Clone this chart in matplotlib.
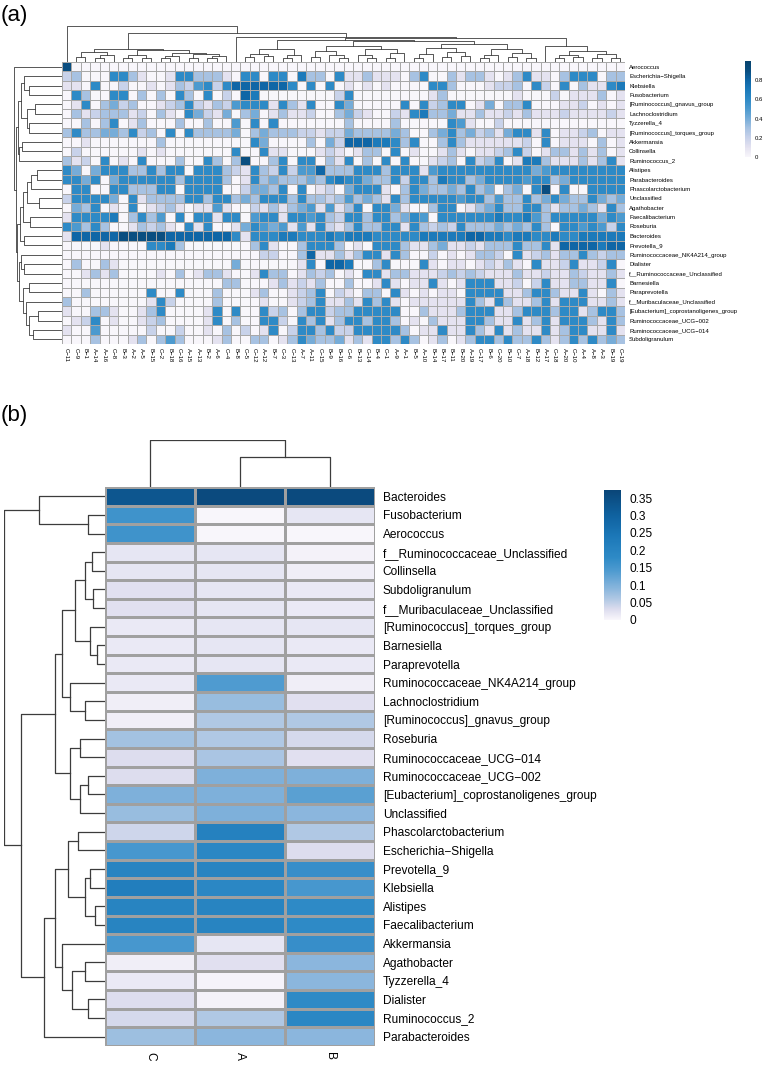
import numpy as np
import matplotlib
matplotlib.use('Agg')
import matplotlib.pyplot as plt
from matplotlib.colors import LinearSegmentedColormap, Normalize
from matplotlib.cm import ScalarMappable

plt.rcParams['font.family'] = ['Liberation Sans', 'DejaVu Sans']

# ---------------- data, panel (a) ----------------
GENERA_A = ['Aerococcus', 'Escherichia\u2212Shigella', 'Klebsiella', 'Fusobacterium',
            '[Ruminococcus]_gnavus_group', 'Lachnoclostridium', 'Tyzzerella_4',
            '[Ruminococcus]_torques_group', 'Akkermansia', 'Collinsella', 'Ruminococcus_2',
            'Alistipes', 'Parabacteroides', 'Phascolarctobacterium', 'Unclassified',
            'Agathobacter', 'Faecalibacterium', 'Roseburia', 'Bacteroides', 'Prevotella_9',
            'Ruminococcaceae_NK4A214_group', 'Dialister', 'f__Ruminococcaceae_Unclassified',
            'Barnesiella', 'Paraprevotella', 'f__Muribaculaceae_Unclassified',
            '[Eubacterium]_coprostanoligenes_group', 'Ruminococcaceae_UCG\u2212002',
            'Ruminococcaceae_UCG\u2212014', 'Subdoligranulum']

SAMPLES_A = ['C\u221211', 'C\u22129', 'B\u22121', 'A\u221214', 'A\u221216', 'C\u22128',
             'B\u22123', 'A\u22122', 'A\u22125', 'B\u221215', 'C\u22122', 'B\u221218',
             'C\u221216', 'A\u221215', 'A\u221213', 'B\u22122', 'A\u22126', 'C\u22124',
             'B\u22128', 'C\u22125', 'C\u221212', 'A\u221212', 'B\u22127', 'C\u22123',
             'C\u221213', 'A\u22127', 'A\u221211', 'C\u221215', 'B\u22129', 'B\u221216',
             'C\u22126', 'B\u221213', 'C\u221214', 'B\u22124', 'C\u22121', 'A\u22129',
             'A\u22121', 'B\u22125', 'A\u221210', 'B\u221214', 'B\u221217', 'B\u221211',
             'B\u221220', 'A\u221219', 'C\u221217', 'B\u22126', 'C\u221220', 'B\u221210',
             'C\u22127', 'A\u221218', 'B\u221212', 'A\u221217', 'C\u221218', 'A\u221220',
             'C\u221210', 'A\u22124', 'A\u22128', 'A\u22123', 'B\u221219', 'C\u221219']

# relative abundance levels (one digit per sample, 0..9 -> 0..0.9)
LEVELS_A = [
    '900000000000000000000000000000' '000000000000000000000000000000',
    '230006631001663331066066073306' '113111036003133101361103666033',
    '110600200101325626888888606060' '101010000663000122306206031167',
    '063006603030630602087000000002' '600000000130000000100020111301',
    '016034230012362132566616316006' '400000606236601403360001120101',
    '031233312031064214034013112003' '421002167334113112131112111121',
    '003036013000300300506060000000' '300003000006510020000000000000',
    '363344362306063333403433322122' '433334300346342314661601123011',
    '001000000030000000006400003042' '888776360036311111120601110301',
    '020000001010000000600611000121' '013306010013101123620133131301',
    '312060106000300630390036066031' '603060600123062360177311131361',
    '640466633636606663216326255833' '366636661566666666664566666666',
    '664604666666366663016343334367' '664336266376634666656634666666',
    '066006633366066660024436060120' '466610364334363403406906006666',
    '266664061333366366343666363323' '534316366666566353363464336434',
    '043601060123101151002131345151' '360664100366013463366313343163',
    '166667036350606616605661665632' '663663465066666676675366666465',
    '653630013231061600146545151621' '363366163232633343436306656526',
    '188888999998888888616667766676' '777666667777788776776676677777',
    '000010000667300000003610036663' '010666311341121333633618888788',
    '000000000000000000000220038113' '136616300201013320612313363233',
    '030031000000000000400000016088' '700360006101101213106112611260',
    '001313000010301331001633013230' '106613311123232111311211321131',
    '000000000000000003300013121300' '300161011610166611202611331160',
    '003000000600600030001300123602' '103306101011066661136631161031',
    '300000000162000030000100123611' '316361011111163163113616661131',
    '100331001360000160600623036623' '366666003111366611366636613663',
    '012601001230000160300662063613' '663663010311166311613616663163',
    '100500000200200103020160266362' '266666301161163161311613661161',
    '000300013035300013003301364334' '131663630130136636336313636343',
]

# ---------------- data, panel (b) ----------------
GENERA_B = ['Bacteroides', 'Fusobacterium', 'Aerococcus', 'f__Ruminococcaceae_Unclassified',
            'Collinsella', 'Subdoligranulum', 'f__Muribaculaceae_Unclassified',
            '[Ruminococcus]_torques_group', 'Barnesiella', 'Paraprevotella',
            'Ruminococcaceae_NK4A214_group', 'Lachnoclostridium', '[Ruminococcus]_gnavus_group',
            'Roseburia', 'Ruminococcaceae_UCG\u2212014', 'Ruminococcaceae_UCG\u2212002',
            '[Eubacterium]_coprostanoligenes_group', 'Unclassified', 'Phascolarctobacterium',
            'Escherichia\u2212Shigella', 'Prevotella_9', 'Klebsiella', 'Alistipes',
            'Faecalibacterium', 'Akkermansia', 'Agathobacter', 'Tyzzerella_4', 'Dialister',
            'Ruminococcus_2', 'Parabacteroides']
GROUPS_B = ['C', 'A', 'B']
GROUP_C = [0.33, 0.16, 0.16, 0.02, 0.02, 0.025, 0.025, 0.015, 0.015, 0.015,
           0.015, 0.01, 0.01, 0.07, 0.03, 0.03, 0.1, 0.08, 0.04, 0.15,
           0.2, 0.22, 0.2, 0.2, 0.15, 0.01, 0.015, 0.03, 0.035, 0.075]
GROUP_A = [0.36, 0.0, 0.0, 0.02, 0.02, 0.02, 0.02, 0.02, 0.02, 0.02,
           0.14, 0.08, 0.06, 0.06, 0.065, 0.1, 0.1, 0.1, 0.21, 0.19,
           0.2, 0.19, 0.2, 0.2, 0.02, 0.025, 0.003, 0.005, 0.06, 0.09]
GROUP_B = [0.36, 0.02, 0.0, 0.005, 0.01, 0.015, 0.015, 0.02, 0.015, 0.015,
           0.01, 0.025, 0.06, 0.035, 0.025, 0.1, 0.13, 0.09, 0.06, 0.03,
           0.17, 0.15, 0.18, 0.18, 0.17, 0.09, 0.09, 0.18, 0.19, 0.09]

# dendrograms: (merge height, left, right); leaves are row / column indices
COL_TREE_A = (1.0, 0, (0.8,
    (0.35, (0.29, (0.15, 1, 2), (0.2, (0.12, 3, 4), 5)),
           (0.32, (0.2, (0.12, 6, 7), (0.1, 8, 9)),
                  (0.26, (0.18, (0.1, 10, 11), 12),
                         (0.22, (0.1, 13, 14), (0.16, (0.1, 15, 16), 17))))),
    (0.7, 18, (0.66,
        (0.62, (0.35, (0.22, (0.15, 19, 20), (0.18, 21, 22)), (0.2, (0.12, 23, 24), 25)),
               (0.57, (0.45, (0.3, (0.15, 26, 27), (0.2, 28, (0.1, 29, 30))),
                             (0.35, (0.2, 31, (0.12, 32, 33)), (0.25, (0.1, 34, 35), 36))),
                      (0.5, (0.38, (0.22, (0.12, 37, 38), 39),
                                   (0.28, (0.15, 40, 41), (0.18, 42, 43))),
                            (0.36, (0.2, (0.12, 44, 45), 46),
                                   (0.24, (0.14, 47, 48), (0.12, 49, 50)))))),
        (0.44, 51, (0.3, (0.2, (0.12, 52, 53), (0.15, 54, 55)),
                         (0.22, (0.12, 56, 57), (0.1, 58, 59))))))))

ROW_TREE_A = (0.98, 0, (0.94,
    (0.9, (0.83, (0.77, 1, (0.67, 2, 3)), (0.71, (0.56, 4, 5), (0.67, 6, 7))),
          (0.875, (0.81, 8, 9), 10)),
    (0.91, (0.85, (0.79, (0.71, (0.625, (0.52, 11, 12), 13), (0.46, 14, 15)), (0.65, 16, 17)),
                  (0.77, 18, 19)),
           (0.875, (0.83, 20, (0.77, 21, 22)),
                   (0.79, (0.67, 23, 24),
                          (0.73, 25, (0.67, (0.5, 26, 27), (0.6, 28, 29))))))))

COL_TREE_B = (1.0, 0, (0.64, 1, 2))
ROW_TREE_B = (1.0,
    (0.65, 0, (0.17, 1, 2)),
    (0.83,
        (0.5, (0.43, (0.3, (0.2, (0.13, 3, 4), (0.12, 5, 6)), (0.15, 7, (0.08, 8, 9))),
                     (0.35, 10, (0.2, 11, 12))),
              (0.35, (0.25, 13, 14), (0.25, (0.17, 15, 16), 17))),
        (0.6, (0.5, (0.37, (0.27, 18, 19), (0.2, (0.15, 20, 21), (0.1, 22, 23))),
                    (0.43, 24, (0.33, (0.2, 25, 26), (0.17, 27, 28)))),
              29)))

# ---------------- drawing ----------------
W, H = 767, 1065
fig = plt.figure(figsize=(W / 100, H / 100), dpi=100)


def box(x0, y0, x1, y1):
    return fig.add_axes([x0 / W, 1 - y1 / H, (x1 - x0) / W, (y1 - y0) / H])


def draw_tree(ax, node, side, **kw):
    if isinstance(node, int):
        return node + 0.5, 0.0
    h, left, right = node
    p1, h1 = draw_tree(ax, left, side, **kw)
    p2, h2 = draw_tree(ax, right, side, **kw)
    if side == 'top':
        ax.plot([p1, p1, p2, p2], [h1, h, h, h2], **kw)
    else:
        ax.plot([h1, h, h, h2], [p1, p1, p2, p2], **kw)
    return (p1 + p2) / 2, h


cmap_a = LinearSegmentedColormap.from_list('a', [
    '#f8f6fb', '#e4e2f0', '#c8d2ea', '#a6c2e2', '#76acd8', '#4d9acf',
    '#2e8ac6', '#1c7aba', '#0f66a6', '#0a4e80', '#08446e'])
vmax_b = 0.373
cmap_b = LinearSegmentedColormap.from_list('b', [
    (0, '#f8f6fb'), (0.03 / vmax_b, '#dcdcee'), (0.06 / vmax_b, '#b0c8e4'),
    (0.1 / vmax_b, '#7db0da'), (0.14 / vmax_b, '#4f9bd0'), (0.18 / vmax_b, '#2e8ac6'),
    (0.24 / vmax_b, '#1c78b8'), (0.3 / vmax_b, '#0f62a0'), (1.0, '#0a4678')])

line_col = '#3c3c3c'

# ---- panel (a) ----
vals_a = np.array([[int(c) for c in row] for row in LEVELS_A]) / 10.0
nr, nc = vals_a.shape
norm_a = Normalize(0, 1.0)

ax = box(62, 62, 625, 344)
ax.pcolormesh(vals_a, cmap=cmap_a, norm=norm_a, edgecolors='#a8a8a8', linewidth=0.4)
ax.set_xlim(0, nc)
ax.set_ylim(nr, 0)
for s in ax.spines.values():
    s.set_visible(False)
ax.yaxis.tick_right()
ax.set_yticks(np.arange(nr) + 0.5)
ax.set_yticklabels(GENERA_A, fontsize=4.3)
ax.set_xticks(np.arange(nc) + 0.5)
ax.set_xticklabels(SAMPLES_A, fontsize=4.3, rotation=270)
ax.tick_params(length=0, pad=3)

ax = box(62, 26, 625, 62)
draw_tree(ax, COL_TREE_A, 'top', color=line_col, lw=0.6)
ax.set_xlim(0, nc)
ax.set_ylim(0, 1.0)
ax.axis('off')

ax = box(13, 62, 62, 344)
draw_tree(ax, ROW_TREE_A, 'left', color=line_col, lw=0.6)
ax.set_xlim(1.0, 0)
ax.set_ylim(nr, 0)
ax.axis('off')

cax = box(745, 61, 751, 157)
cb = fig.colorbar(ScalarMappable(norm=norm_a, cmap=cmap_a), cax=cax)
cb.outline.set_visible(False)
cb.set_ticks([0, 0.2, 0.4, 0.6, 0.8])
cb.set_ticklabels(['0', '0.2', '0.4', '0.6', '0.8'])
cax.tick_params(length=0, labelsize=4.3, pad=3)

fig.text(1 / W, 1 - 16 / H, '(a)', fontsize=16, va='center', ha='left')

# ---- panel (b) ----
vals_b = np.column_stack([GROUP_C, GROUP_A, GROUP_B])
nrb, ncb = vals_b.shape
norm_b = Normalize(0, vmax_b)

ax = box(105, 487, 375, 1046)
ax.pcolormesh(vals_b, cmap=cmap_b, norm=norm_b, edgecolors='#a0a0a0', linewidth=0.8)
ax.set_xlim(0, ncb)
ax.set_ylim(nrb, 0)
for s in ax.spines.values():
    s.set_visible(False)
ax.yaxis.tick_right()
ax.set_yticks(np.arange(nrb) + 0.5)
ax.set_yticklabels(GENERA_B, fontsize=8.6)
ax.set_xticks(np.arange(ncb) + 0.5)
ax.set_xticklabels(GROUPS_B, fontsize=8.6, rotation=270)
ax.tick_params(axis='y', length=0, pad=5.5)
ax.tick_params(axis='x', length=0, pad=4)

ax = box(105, 440, 375, 487)
draw_tree(ax, COL_TREE_B, 'top', color=line_col, lw=0.9)
ax.set_xlim(0, ncb)
ax.set_ylim(0, 1.0)
ax.axis('off')

ax = box(4, 487, 105, 1046)
draw_tree(ax, ROW_TREE_B, 'left', color=line_col, lw=0.9)
ax.set_xlim(1.0, 0)
ax.set_ylim(nrb, 0)
ax.axis('off')

cax = box(604, 490, 621, 620)
cb = fig.colorbar(ScalarMappable(norm=norm_b, cmap=cmap_b), cax=cax)
cb.outline.set_visible(False)
cb.set_ticks([0, 0.05, 0.1, 0.15, 0.2, 0.25, 0.3, 0.35])
cb.set_ticklabels(['0', '0.05', '0.1', '0.15', '0.2', '0.25', '0.3', '0.35'])
cax.tick_params(length=0, labelsize=8.6, pad=6)

fig.text(1 / W, 1 - 415 / H, '(b)', fontsize=16, va='center', ha='left')

fig.savefig('out.png', dpi=100)
